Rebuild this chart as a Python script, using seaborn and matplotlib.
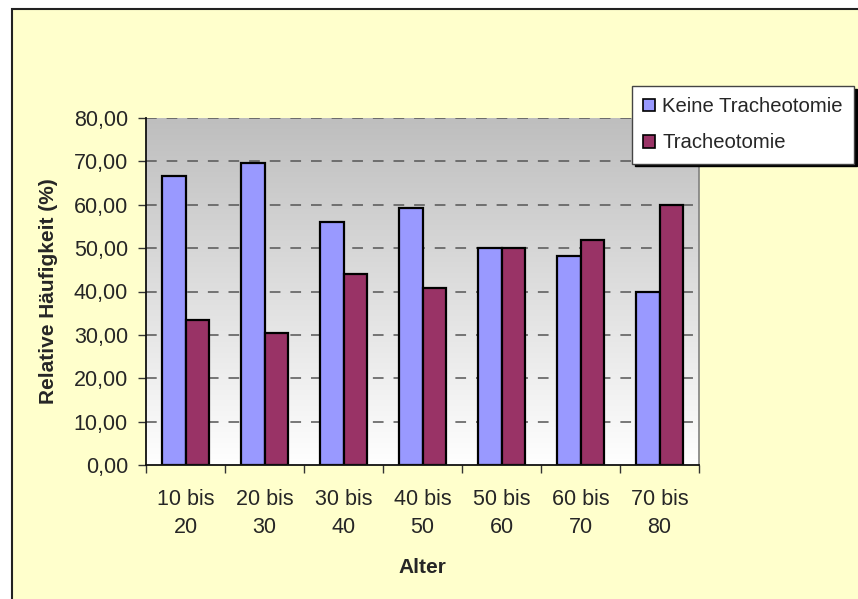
import numpy as np
import pandas as pd
import matplotlib.pyplot as plt
import seaborn as sns
from matplotlib.patches import Patch, Rectangle
from matplotlib.colors import LinearSegmentedColormap
from matplotlib.ticker import FixedLocator, FuncFormatter

# data
alter = ['10 bis\n20', '20 bis\n30', '30 bis\n40', '40 bis\n50', '50 bis\n60', '60 bis\n70', '70 bis\n80']
keine = [66.67, 69.57, 56.00, 59.26, 50.00, 48.15, 40.00]
tracheo = [33.33, 30.43, 44.00, 40.74, 50.00, 51.85, 60.00]
serien = ['Keine Tracheotomie', 'Tracheotomie']
farben = ['#9999FF', '#993366']
yticks = [0, 10, 20, 30, 40, 50, 60, 70, 80]

df = pd.DataFrame({
    'Alter': alter * 2,
    'Wert': keine + tracheo,
    'Serie': [serien[0]] * len(alter) + [serien[1]] * len(alter),
})

sns.set_style('white')
plt.rcParams['font.family'] = ['Liberation Sans', 'DejaVu Sans']

W, H = 858, 599
fig = plt.figure(figsize=(W / 100, H / 100), dpi=100)
fig.patch.set_facecolor('white')

# yellow chart area with black frame (right and bottom edge cut off)
fig.patches.append(Rectangle((12 / W, -0.1), 1.2, 1.1 - 9 / H, transform=fig.transFigure,
                             facecolor='#FFFFCC', edgecolor='#222222', linewidth=1.5, zorder=-10))

ax = fig.add_axes([146 / W, 1 - 465 / H, 553 / W, 347 / H])

# grey gradient plot area
grad = np.linspace(0, 1, 256).reshape(-1, 1)
cmap = LinearSegmentedColormap.from_list('bg', ['#FFFFFF', '#BEBEBE'])
ax.imshow(grad, extent=(-0.5, len(alter) - 0.5, 0, 80), origin='lower', cmap=cmap,
          aspect='auto', zorder=0)

sns.barplot(data=df, x='Alter', y='Wert', hue='Serie', palette=farben, width=0.6,
            edgecolor='black', linewidth=1.6, saturation=1, legend=False, ax=ax, zorder=2)

ax.set_xlim(-0.5, len(alter) - 0.5)
ax.set_ylim(0, 80)
ax.set_facecolor('none')

ax.yaxis.set_major_locator(FixedLocator(yticks))
ax.yaxis.set_major_formatter(FuncFormatter(lambda v, p: f'{v:.2f}'.replace('.', ',')))
for y in yticks[1:]:
    ax.axhline(y, color='#555555', linewidth=1.1, dashes=(7, 6.5), zorder=1)

ax.set_xticks(range(len(alter)))
ax.set_xticklabels(alter)
ax.set_xticks(np.arange(-0.5, len(alter)), minor=True)
ax.tick_params(axis='x', which='major', length=0, pad=17, labelsize=15.5)
ax.tick_params(axis='x', which='minor', length=6, width=1, color='#333333', direction='out')
ax.tick_params(axis='y', length=6, width=1, color='#333333', direction='out', pad=7, labelsize=15.5)
ax.xaxis.set_tick_params(bottom=True, which='both')
ax.yaxis.set_tick_params(left=True)
plt.setp(ax.get_xticklabels(), linespacing=1.45)

for s in ['left', 'bottom']:
    ax.spines[s].set_color('#111111')
    ax.spines[s].set_linewidth(1.3)
ax.spines['top'].set_visible(False)
ax.spines['right'].set_color('#808080')
ax.spines['right'].set_linewidth(1.2)

ax.set_xlabel('Alter', fontsize=15, fontweight='bold')
ax.set_ylabel('Relative Häufigkeit (%)', fontsize=15, fontweight='bold')
ax.xaxis.set_label_coords(0.5, (465 - 558) / 347)
ax.yaxis.set_label_coords((58 - 146) / 553, 0.5)

handles = [Patch(facecolor=c, edgecolor='black', linewidth=1.2) for c in farben]
leg = fig.legend(handles, serien, loc='upper left', bbox_to_anchor=(632 / W, 1 - 86 / H),
                 frameon=True, fancybox=False, shadow={'color': 'black', 'alpha': 1},
                 fontsize=14.6, handlelength=0.6, handleheight=0.6, handletextpad=0.35,
                 borderpad=0.55, labelspacing=0.85, borderaxespad=0)
leg.get_frame().set_edgecolor('#444444')
leg.get_frame().set_linewidth(1)

fig.savefig('out.png', dpi=100)
